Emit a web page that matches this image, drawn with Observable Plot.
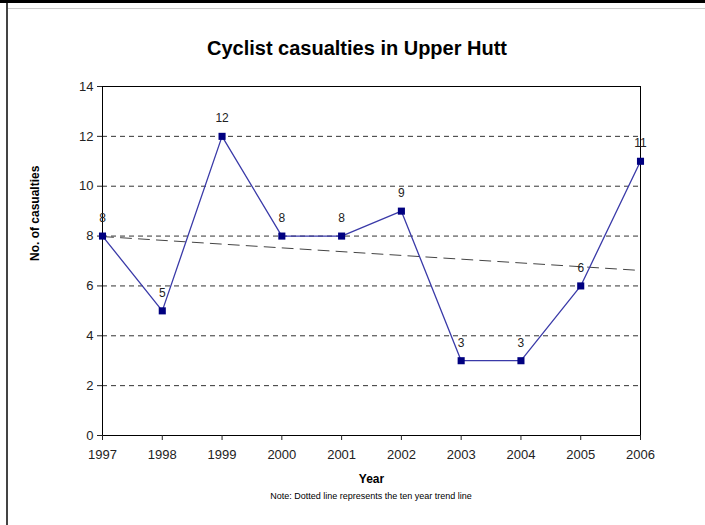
<!DOCTYPE html>
<html>
<head>
<meta charset="utf-8">
<script src="https://cdn.jsdelivr.net/npm/d3@7"></script>
<script src="https://cdn.jsdelivr.net/npm/@observablehq/plot@0.6"></script>
<style>
  html, body { margin: 0; padding: 0; background: #fff; }
  #wrap { position: relative; width: 705px; height: 525px; overflow: hidden; font-family: "Liberation Sans", Arial, sans-serif; }
  #topline { position: absolute; left: 0; top: 0; width: 705px; height: 3px; background: #000; }
  #topline2 { position: absolute; left: 8px; top: 8px; width: 697px; height: 1px; background: #ccc; }
  #leftline { position: absolute; left: 6px; top: 3px; width: 2px; height: 522px; background: #444; }
  #title { position: absolute; left: 0; width: 714px; top: 37px; text-align: center; font-size: 20px; font-weight: bold; color: #000; }
  #note { position: absolute; left: 0; width: 742px; top: 491px; text-align: center; font-size: 9px; color: #000; }
  #chart { position: absolute; left: 0; top: 70px; }
</style>
</head>
<body>
<div id="wrap">
  <div id="topline"></div>
  <div id="topline2"></div>
  <div id="leftline"></div>
  <div id="title">Cyclist casualties in Upper Hutt</div>
  <div id="chart"></div>
  <div id="note">Note: Dotted line represents the ten year trend line</div>
</div>
<script>
const years = [1997, 1998, 1999, 2000, 2001, 2002, 2003, 2004, 2005, 2006];
const casualties = [8, 5, 12, 8, 8, 9, 3, 3, 6, 11];
const trendYears = [1997, 2006];
const trendValues = [7.98, 6.62];
const yTicks = [0, 2, 4, 6, 8, 10, 12, 14];
const gridValues = [2, 4, 6, 8, 10, 12];

const data = years.map((y, i) => ({year: y, value: casualties[i]}));
const trend = trendYears.map((y, i) => ({year: y, value: trendValues[i]}));

const W = 705, H = 420;
const chart = Plot.plot({
  width: W,
  height: H,
  marginLeft: 102,
  marginRight: W - 640,
  marginTop: 16,
  marginBottom: 55,
  style: { fontFamily: "'Liberation Sans', Arial, sans-serif", fontSize: "13px", color: "#222", background: "transparent" },
  x: { domain: [1997, 2006], ticks: years, tickFormat: d => String(d) },
  y: { domain: [0, 14], ticks: yTicks },
  marks: [
    Plot.ruleY(gridValues, { stroke: "#333", strokeWidth: 1, strokeDasharray: "5,4" }),
    Plot.frame({ stroke: "#000", strokeWidth: 1 }),
    Plot.axisX({ ticks: years, tickFormat: d => String(d), tickSize: 5, tickPadding: 9, label: null, fontSize: 13 }),
    Plot.axisY({ ticks: yTicks, tickSize: 5, tickPadding: 4, label: null, fontSize: 13 }),
    Plot.line(trend, { x: "year", y: "value", stroke: "#444", strokeWidth: 1, strokeDasharray: "11,7" }),
    Plot.line(data, { x: "year", y: "value", stroke: "#3a3aa8", strokeWidth: 1.3 }),
    Plot.dot(data, { x: "year", y: "value", symbol: "square", r: 4, fill: "#000080", stroke: "none" }),
    Plot.text(data, { x: "year", y: "value", text: d => String(d.value), dy: -18, fontSize: 12, fill: "#222" }),
    Plot.text(["Year"], { frameAnchor: "bottom", dy: 47, fontWeight: "bold", fontSize: 12, fill: "#000" }),
    Plot.text(["No. of casualties"], { frameAnchor: "left", dx: -67, rotate: -90, fontWeight: "bold", fontSize: 12, fill: "#000" })
  ]
});
document.getElementById("chart").appendChild(chart);
</script>
</body>
</html>
